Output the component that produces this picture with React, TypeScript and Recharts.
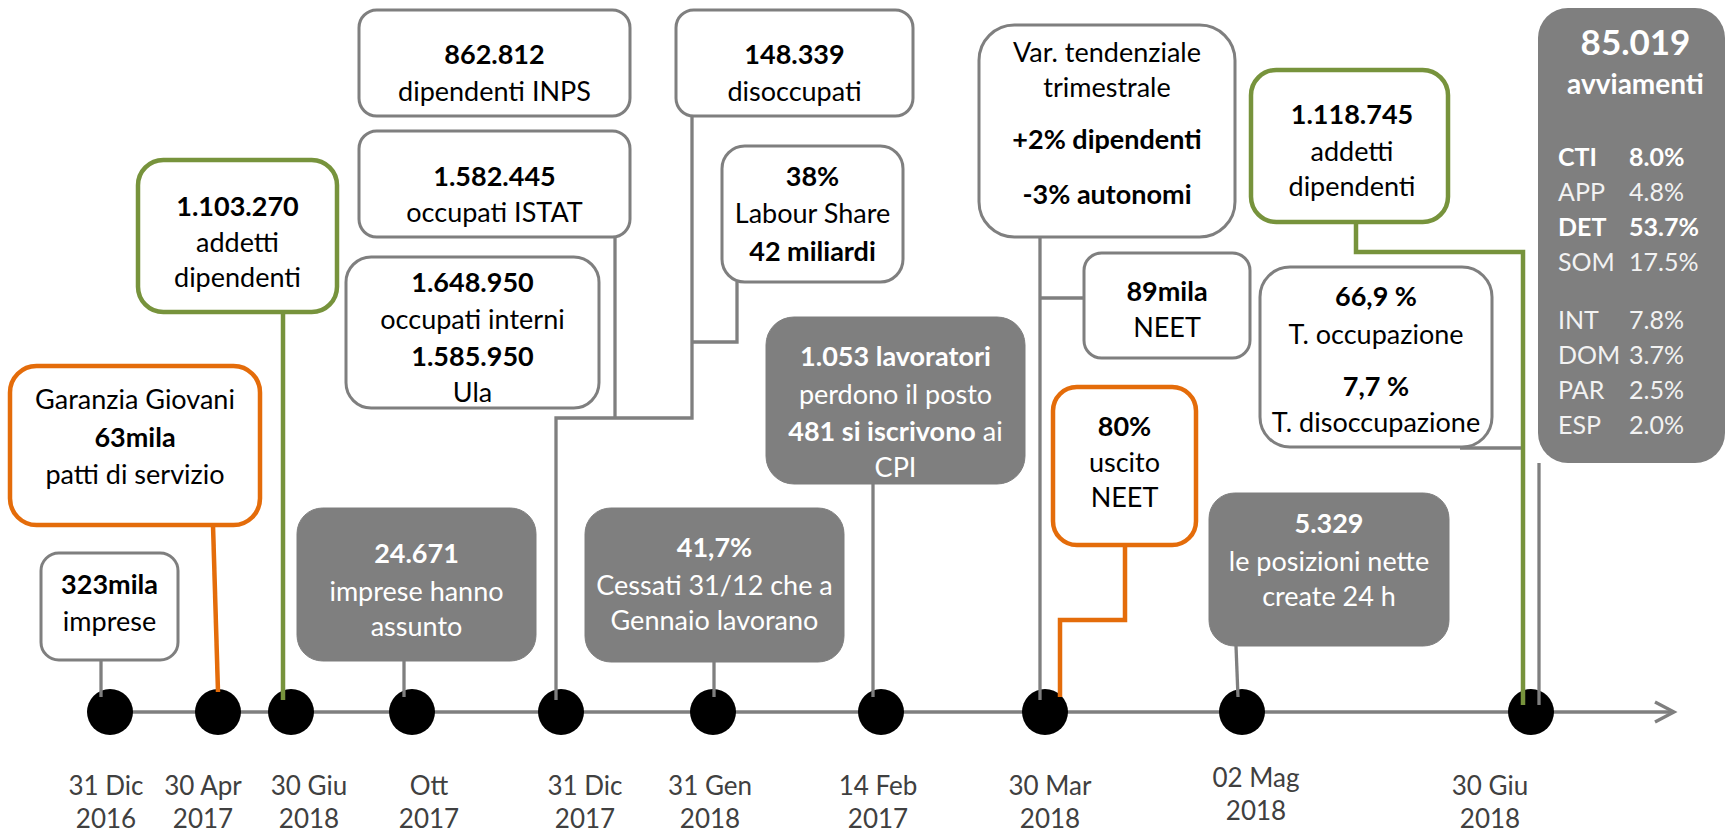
import React from "react";
import { ComposedChart, XAxis, YAxis, Scatter, ReferenceArea } from "recharts";

// ---- data ----
const dateDays = ["31 Dic", "30 Apr", "30 Giu", "Ott", "31 Dic", "31 Gen", "14 Feb", "30 Mar", "02 Mag", "30 Giu"];
const dateYears = ["2016", "2017", "2018", "2017", "2017", "2018", "2017", "2018", "2018", "2018"];

type Seg = { t: string; b?: boolean; tail?: string };

const impreseText: Seg[] = [{ t: "323mila", b: true }, { t: "imprese" }];
const garanziaText: Seg[] = [{ t: "Garanzia Giovani" }, { t: "63mila", b: true }, { t: "patti di servizio" }];
const addetti2017Text: Seg[] = [{ t: "1.103.270", b: true }, { t: "addetti" }, { t: "dipendenti" }];
const assuntoText: Seg[] = [{ t: "24.671", b: true }, { t: "imprese hanno" }, { t: "assunto" }];
const inpsText: Seg[] = [{ t: "862.812", b: true }, { t: "dipendenti INPS" }];
const istatText: Seg[] = [{ t: "1.582.445", b: true }, { t: "occupati ISTAT" }];
const interniText: Seg[] = [{ t: "1.648.950", b: true }, { t: "occupati interni" }, { t: "1.585.950", b: true }, { t: "Ula" }];
const disoccText: Seg[] = [{ t: "148.339", b: true }, { t: "disoccupati" }];
const labourText: Seg[] = [{ t: "38%", b: true }, { t: "Labour Share" }, { t: "42 miliardi", b: true }];
const cessatiText: Seg[] = [{ t: "41,7%", b: true }, { t: "Cessati 31/12 che a" }, { t: "Gennaio lavorano" }];
const lavoratoriText: Seg[] = [
  { t: "1.053 lavoratori", b: true },
  { t: "perdono il posto" },
  { t: "481 si iscrivono", b: true, tail: " ai" },
  { t: "CPI" },
];
const varText: Seg[] = [{ t: "Var. tendenziale" }, { t: "trimestrale" }, { t: "+2% dipendenti", b: true }, { t: "-3% autonomi", b: true }];
const neetText: Seg[] = [{ t: "89mila", b: true }, { t: "NEET" }];
const uscitoText: Seg[] = [{ t: "80%", b: true }, { t: "uscito" }, { t: "NEET" }];
const posizioniText: Seg[] = [{ t: "5.329", b: true }, { t: "le posizioni nette" }, { t: "create 24 h" }];
const addetti2018Text: Seg[] = [{ t: "1.118.745", b: true }, { t: "addetti" }, { t: "dipendenti" }];
const tassiText: Seg[] = [{ t: "66,9 %", b: true }, { t: "T. occupazione" }, { t: "7,7 %", b: true }, { t: "T. disoccupazione" }];

const avviamentiTotal = "85.019";
const avvCodes = ["CTI", "APP", "DET", "SOM", "INT", "DOM", "PAR", "ESP"];
const avvShares = [8.0, 4.8, 53.7, 17.5, 7.8, 3.7, 2.5, 2.0];
const avvBold = ["CTI", "DET"];

// ---- layout (data units of the axes) ----
const W = 1727;
const H = 834;
const AXIS_H = 100;
const PLOT_H = H - AXIS_H;
const timelineY = 712;
const eventPos = [110, 218, 291, 412, 561, 713, 881, 1045, 1242, 1531];
const tickShift: [number, number][] = [
  [-4, 0], [-15, 0], [18, 0], [17, 0], [24, 0], [-3, 0], [-3, 0], [5, 0], [14, -8], [-41, 0],
];

const FONT = "Lato, 'Open Sans', sans-serif";
const GRAY = "#7f7f7f";
const GREEN = "#77933c";
const ORANGE = "#e46c0a";

type Kind = "plain" | "green" | "orange" | "filled";
const kinds: Record<Kind, { fill: string; stroke: string; sw: number; text: string }> = {
  plain: { fill: "#ffffff", stroke: GRAY, sw: 3, text: "#000000" },
  green: { fill: "#ffffff", stroke: GREEN, sw: 4.5, text: "#000000" },
  orange: { fill: "#ffffff", stroke: ORANGE, sw: 4.5, text: "#000000" },
  filled: { fill: GRAY, stroke: GRAY, sw: 1, text: "#ffffff" },
};

type BoxSpec = { x1: number; x2: number; y1: number; y2: number; kind: Kind; lines: Seg[]; ys: number[]; cx?: number };

const boxes: BoxSpec[] = [
  { x1: 41, x2: 178, y1: 553, y2: 660, kind: "plain", lines: impreseText, ys: [585, 622] },
  { x1: 10, x2: 260, y1: 366, y2: 525, kind: "orange", lines: garanziaText, ys: [400, 438, 475] },
  { x1: 138, x2: 337, y1: 160, y2: 312, kind: "green", lines: addetti2017Text, ys: [207, 243, 278] },
  { x1: 297, x2: 536, y1: 508, y2: 661, kind: "filled", lines: assuntoText, ys: [554, 592, 627] },
  { x1: 359, x2: 630, y1: 10, y2: 116, kind: "plain", lines: inpsText, ys: [55, 92] },
  { x1: 359, x2: 630, y1: 131, y2: 237, kind: "plain", lines: istatText, ys: [177, 213] },
  { x1: 346, x2: 599, y1: 257, y2: 408, kind: "plain", lines: interniText, ys: [283, 320, 357, 393] },
  { x1: 676, x2: 913, y1: 10, y2: 116, kind: "plain", lines: disoccText, ys: [55, 92] },
  { x1: 722, x2: 903, y1: 146, y2: 282, kind: "plain", lines: labourText, ys: [177, 214, 252] },
  { x1: 585, x2: 844, y1: 508, y2: 662, kind: "filled", lines: cessatiText, ys: [548, 586, 621] },
  { x1: 766, x2: 1025, y1: 317, y2: 484, kind: "filled", lines: lavoratoriText, ys: [357, 395, 432, 468] },
  { x1: 979, x2: 1235, y1: 25, y2: 237, kind: "plain", lines: varText, ys: [53, 88, 140, 195] },
  { x1: 1084, x2: 1250, y1: 253, y2: 358, kind: "plain", lines: neetText, ys: [292, 328] },
  { x1: 1053, x2: 1196, y1: 387, y2: 545, kind: "orange", lines: uscitoText, ys: [427, 463, 498] },
  { x1: 1209, x2: 1449, y1: 493, y2: 646, kind: "filled", lines: posizioniText, ys: [524, 562, 597] },
  { x1: 1251, x2: 1448, y1: 70, y2: 222, kind: "green", lines: addetti2018Text, ys: [115, 152, 187], cx: 1352 },
  { x1: 1260, x2: 1492, y1: 267, y2: 447, kind: "plain", lines: tassiText, ys: [297, 335, 387, 423], cx: 1376 },
];

const avvBox = { x1: 1538, x2: 1725, y1: 8, y2: 463 };
const avvHeadYs = [43, 85];
const avvRowYs = [157, 192, 227, 262, 320, 355, 390, 425];
const avvCodeX = 1558;
const avvValueX = 1629;

type Conn = { color: string; w: number; pts: [number, number][] };
const connectors: Conn[] = [
  { color: GRAY, w: 3.3, pts: [[101, 660], [101, 697]] },
  { color: ORANGE, w: 4.5, pts: [[213, 525], [218, 692]] },
  { color: GREEN, w: 4.5, pts: [[283, 312], [283, 700]] },
  { color: GRAY, w: 3.3, pts: [[404, 661], [404, 697]] },
  { color: GRAY, w: 3.3, pts: [[556, 700], [556, 418], [692, 418], [692, 116]] },
  { color: GRAY, w: 3.3, pts: [[615, 237], [615, 418]] },
  { color: GRAY, w: 3.3, pts: [[692, 342], [737, 342], [737, 282]] },
  { color: GRAY, w: 3.3, pts: [[714, 662], [714, 697]] },
  { color: GRAY, w: 3.3, pts: [[873, 484], [873, 697]] },
  { color: GRAY, w: 3.3, pts: [[1040, 237], [1040, 700]] },
  { color: GRAY, w: 3.3, pts: [[1040, 298], [1084, 298]] },
  { color: ORANGE, w: 4.5, pts: [[1125, 545], [1125, 620], [1060, 620], [1060, 697]] },
  { color: GRAY, w: 3.3, pts: [[1236, 646], [1238, 697]] },
  { color: GREEN, w: 4.5, pts: [[1356, 222], [1356, 252], [1523, 252], [1523, 705]] },
  { color: GRAY, w: 3.3, pts: [[1460, 448], [1521, 448]] },
  { color: GRAY, w: 3.3, pts: [[1539, 463], [1539, 705]] },
];

const timeline: [number, number][] = [[110, timelineY], [1674, timelineY]];
const arrowHead: [number, number][] = [[1655, timelineY - 10], [1674, timelineY], [1655, timelineY + 10]];

const toPts = (pts: [number, number][]) => pts.map(([x, y]) => ({ x, y }));
const noShape = () => <g />;

const DateTick = (props: any) => {
  const { x, y, payload } = props;
  const i = eventPos.indexOf(payload.value);
  if (i < 0) return <g />;
  const [dx, dy] = tickShift[i];
  return (
    <g transform={`translate(${x + dx},${y + dy})`}>
      <text textAnchor="middle" fill="#404040" fontFamily={FONT} fontSize={26}>
        <tspan x={0} y={61}>{dateDays[i]}</tspan>
        <tspan x={0} y={94}>{dateYears[i]}</tspan>
      </text>
    </g>
  );
};

const boxShape = (b: BoxSpec) => (p: any) => {
  const { x, y, width, height } = p;
  const sx = width / (b.x2 - b.x1);
  const sy = height / (b.y2 - b.y1);
  const st = kinds[b.kind];
  const r = Math.min(width, height) / 6;
  const cx = x + ((b.cx ?? (b.x1 + b.x2) / 2) - b.x1) * sx;
  return (
    <g>
      <rect x={x} y={y} width={width} height={height} rx={r} ry={r} fill={st.fill} stroke={st.stroke} strokeWidth={st.sw} />
      {b.lines.map((ln, i) => (
        <text
          key={i}
          x={cx}
          y={y + (b.ys[i] - b.y1) * sy + 9}
          textAnchor="middle"
          fontFamily={FONT}
          fontSize={27}
          fontWeight={ln.b ? 700 : 400}
          fill={st.text}
        >
          {ln.t}
          {ln.tail ? <tspan fontWeight={400}>{ln.tail}</tspan> : null}
        </text>
      ))}
    </g>
  );
};

const avvShape = (p: any) => {
  const { x, y, width, height } = p;
  const sx = width / (avvBox.x2 - avvBox.x1);
  const sy = height / (avvBox.y2 - avvBox.y1);
  const py = (v: number) => y + (v - avvBox.y1) * sy;
  const px = (v: number) => x + (v - avvBox.x1) * sx;
  const cx = x + width / 2 + 4;
  return (
    <g fontFamily={FONT}>
      <rect x={x} y={y} width={width} height={height} rx={30} ry={30} fill={GRAY} />
      <text x={cx} y={py(avvHeadYs[0]) + 12} textAnchor="middle" fontSize={35} fontWeight={700} fill="#ffffff">
        {avviamentiTotal}
      </text>
      <text x={cx} y={py(avvHeadYs[1]) + 9} textAnchor="middle" fontSize={28} fontWeight={700} fill="#ffffff">
        avviamenti
      </text>
      {avvCodes.map((c, i) => {
        const bold = avvBold.includes(c);
        return (
          <g key={c} fill={bold ? "#ffffff" : "#f2f2f2"} fontWeight={bold ? 700 : 400} fontSize={25}>
            <text x={px(avvCodeX)} y={py(avvRowYs[i]) + 9}>{c}</text>
            <text x={px(avvValueX)} y={py(avvRowYs[i]) + 9}>{avvShares[i].toFixed(1)}%</text>
          </g>
        );
      })}
    </g>
  );
};

export default function App() {
  return (
    <div style={{ position: "absolute", left: 0, top: 0, background: "#ffffff" }}>
      <ComposedChart width={W} height={H} margin={{ top: 0, right: 0, bottom: 0, left: 0 }}>
        <XAxis
          type="number"
          dataKey="x"
          domain={[0, W]}
          ticks={eventPos}
          interval={0}
          tick={<DateTick />}
          tickLine={false}
          axisLine={false}
          tickSize={0}
          tickMargin={0}
          height={AXIS_H}
        />
        <YAxis type="number" dataKey="y" domain={[0, PLOT_H]} reversed hide />

        {boxes.map((b, i) => (
          <ReferenceArea key={`box-${i}`} x1={b.x1} x2={b.x2} y1={b.y1} y2={b.y2} shape={boxShape(b)} />
        ))}
        <ReferenceArea x1={avvBox.x1} x2={avvBox.x2} y1={avvBox.y1} y2={avvBox.y2} shape={avvShape} />

        <Scatter
          data={toPts(timeline)}
          line={{ stroke: GRAY, strokeWidth: 3.3 }}
          shape={noShape}
          isAnimationActive={false}
        />
        <Scatter
          data={toPts(arrowHead)}
          line={{ stroke: GRAY, strokeWidth: 3.3, fill: "none" }}
          shape={noShape}
          isAnimationActive={false}
        />
        <Scatter
          data={eventPos.map((x) => ({ x, y: timelineY }))}
          shape={(p: any) => <circle cx={p.cx} cy={p.cy} r={23} fill="#000000" />}
          isAnimationActive={false}
        />
        {connectors.map((c, i) => (
          <Scatter
            key={`conn-${i}`}
            data={toPts(c.pts)}
            line={{ stroke: c.color, strokeWidth: c.w, fill: "none" }}
            shape={noShape}
            isAnimationActive={false}
          />
        ))}
      </ComposedChart>
    </div>
  );
}
